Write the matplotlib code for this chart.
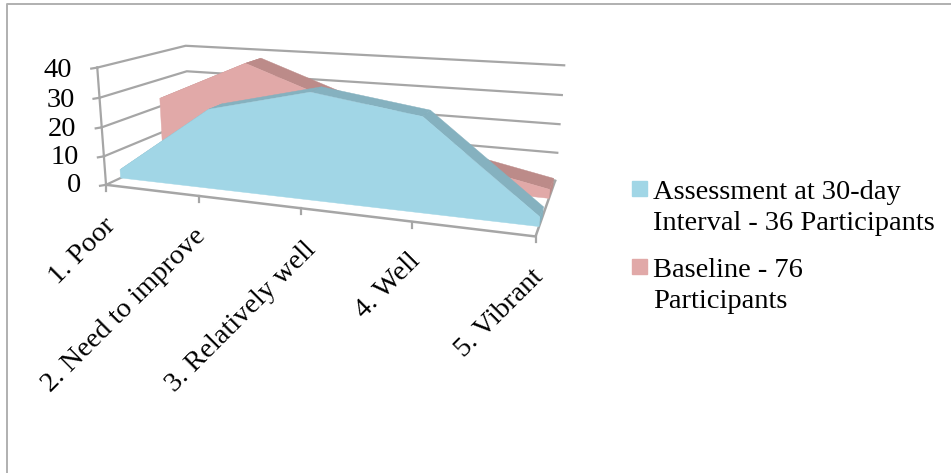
import numpy as np
import matplotlib
matplotlib.use('Agg')
import matplotlib.pyplot as plt
from matplotlib.patches import Rectangle

categories = ['1. Poor', '2. Need to improve', '3. Relatively well', '4. Well', '5. Vibrant']
assessment = [3, 27, 35, 30, 3]
baseline = [23, 38, 26, 10, 3]
y_ticks = [0, 10, 20, 30, 40]
legend_assessment = 'Assessment at 30-day\nInterval - 36 Participants'
legend_baseline = 'Baseline - 76\nParticipants'

GRID = '#a6a6a6'
BLUE, BLUE_DARK = '#a1d6e6', '#85b1bf'
PINK, PINK_DARK = '#e1a9a8', '#bc8b89'

plt.rcParams['font.family'] = ['Liberation Serif', 'DejaVu Serif']

# box corners (category, value, depth) and where they land on the canvas
box = np.array([[0, 0, 0], [1, 0, 0], [1, 0, 1], [0, 0, 1], [0, 1, 0], [0, 1, 1], [1, 1, 1],
                [.25, 0, 0], [.5, 0, 0], [.75, 0, 0]], float)
canvas = np.array([[106, 183], [536, 238], [555, 179], [190, 148], [97, 69], [186, 44], [564, 66],
                   [199, 195], [301, 208], [412, 222]], float)

# solve the projective camera for the box
rows, rhs = [], []
for (a, b, c), (px, py) in zip(box, canvas):
    rows.append([a, b, c, 1, 0, 0, 0, 0, -px * a, -px * b, -px * c])
    rhs.append(px)
    rows.append([0, 0, 0, 0, a, b, c, 1, -py * a, -py * b, -py * c])
    rhs.append(py)
cam = np.append(np.linalg.lstsq(np.array(rows), np.array(rhs), rcond=None)[0], 1).reshape(3, 4)


def project(cat, val, depth):
    # cat: 0..4, val: chart units, depth: 0 front to 1 back
    pts = np.column_stack([np.asarray(cat) / 4, np.asarray(val) / 40, np.broadcast_to(depth, np.shape(cat)),
                           np.ones(len(cat))])
    out = pts @ cam.T
    return out[:, 0] / out[:, 2], out[:, 1] / out[:, 2]


def draw_area(ax, values, w0, w1, face, dark):
    cats = np.arange(len(values))
    vals = np.array(values, float)
    # top ribbon running back from the front face
    fx, fy = project(cats, vals, w0)
    bx, by = project(cats, vals, w1)
    for i in range(len(cats) - 1):
        ax.fill([fx[i], fx[i + 1], bx[i + 1], bx[i]], [fy[i], fy[i + 1], by[i + 1], by[i]],
                color=dark, lw=0.3, zorder=3)
    # closing side at the right hand end
    ex0, ey0 = project([4, 4], [0, vals[-1]], w0)
    ex1, ey1 = project([4, 4], [vals[-1], 0], w1)
    ax.fill(np.r_[ex0, ex1], np.r_[ey0, ey1], color=dark, lw=0.3, zorder=3)
    # front face
    bsx, bsy = project(cats, np.zeros(len(cats)), w0)
    ax.fill(np.r_[fx, bsx[::-1]], np.r_[fy, bsy[::-1]], color=face, lw=0.3, zorder=3)


fig = plt.figure(figsize=(9.51, 4.73), dpi=100)
ax = fig.add_axes([0, 0, 1, 1])
ax.set_xlim(0, 951)
ax.set_ylim(473, 0)
ax.axis('off')

# chart frame, top and left only
ax.plot([7, 7, 951], [473, 4, 4], color='#b0b0b0', lw=1.4)

# gridlines on both walls, with ticks and labels on the value axis
for t in y_ticks:
    xs, ys = project([0, 0, 4], [t, t, t], np.array([0, 1, 1]))
    ax.plot(xs, ys, color=GRID, lw=1.6, zorder=1)
    ax.plot([xs[0] - 6, xs[0]], [ys[0] + 1, ys[0]], color=GRID, lw=1.6, zorder=1)
    ax.text(xs[0] - 25, ys[0] + 1 + 2 * t / 40, str(t), ha='right', va='center', fontsize=20.5)

xs, ys = project([0, 0], [0, 40], 0)
ax.plot(xs, ys, color=GRID, lw=1.6, zorder=1)

# floor edges
xs, ys = project([0, 4, 4], [0, 0, 0], np.array([0, 0, 1]))
ax.plot(xs, ys, color=GRID, lw=1.8, zorder=2)

# category ticks and slanted labels
label_x = [103, 193, 303, 408, 531]
label_y = [213, 224, 237, 248, 264]
for i, name in enumerate(categories):
    xs, ys = project([i], [0], 0)
    ax.plot([xs[0], xs[0]], [ys[0], ys[0] + 6], color=GRID, lw=1.6, zorder=2)
    ax.text(label_x[i], label_y[i], name, rotation=45, rotation_mode='anchor',
            ha='right', va='top', fontsize=20.5)

draw_area(ax, baseline, 0.64, 0.87, PINK, PINK_DARK)
draw_area(ax, assessment, 0.15, 0.32, BLUE, BLUE_DARK)

# legend
ax.add_patch(Rectangle((632, 181), 15, 15, color=BLUE))
ax.text(653, 208, legend_assessment, ha='left', va='center', fontsize=20.5, linespacing=1.36)
ax.add_patch(Rectangle((632, 259), 15, 15, color=PINK))
ax.text(653, 286, legend_baseline, ha='left', va='center', fontsize=20.5, linespacing=1.36)

fig.savefig('out.png', dpi=100)
